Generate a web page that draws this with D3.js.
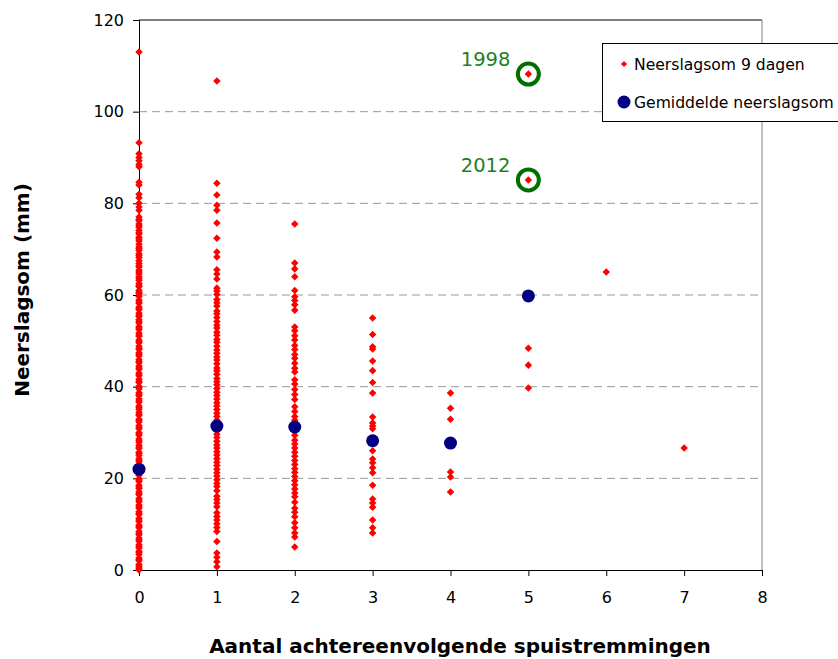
<!DOCTYPE html>
<html>
<head>
<meta charset="utf-8">
<script src="https://cdn.jsdelivr.net/npm/d3@7"></script>
<style>
  body { margin: 0; background: #fff; }
  svg { display: block; font-family: "DejaVu Sans", Verdana, sans-serif; }
</style>
</head>
<body>
<div id="chart"></div>
<script>
// Neerslagsom 9 dagen (mm) per aantal achtereenvolgende spuistremmingen
var neerslag0 = [113, 93.2, 90.8, 90, 89.3, 88.5, 88, 84.6, 84, 82, 81.2, 80, 79.2, 78.5,
  77.0, 76.5, 76.2, 75.5, 75.1, 74.8, 74.1, 73.6, 73.3, 72.6, 72.2, 71.8, 71.1, 70.5, 70.1,
  69.7, 69.0, 68.6, 68.2, 67.5, 66.9, 66.4, 66.1, 65.4, 65.0, 64.6, 64.0, 63.6, 63.2, 62.5,
  62.1, 61.8, 61.0, 60.6, 60.3, 59.7, 58.9, 58.5, 58.2, 57.4, 57.0, 56.8, 56.0, 55.6, 55.3,
  54.6, 54.2, 53.9, 53.1, 52.8, 52.5, 51.7, 51.3, 51.0, 50.2, 49.9, 49.6, 48.8, 48.4, 48.1,
  47.4, 47.0, 46.7, 45.9, 45.5, 45.2, 44.5, 44.1, 43.8, 43.0, 42.7, 42.4, 41.6, 41.2, 40.9,
  40.1, 39.8, 39.5, 38.7, 38.3, 38.0, 37.3, 36.9, 36.6, 35.8, 35.4, 35.1, 34.4, 34.0, 33.7,
  32.9, 32.6, 32.3, 31.5, 31.1, 30.8, 30.0, 29.7, 29.4, 28.6, 28.2, 27.9, 27.2, 26.8, 26.5,
  25.7, 25.4, 25.0, 24.3, 23.9, 23.6, 22.8, 22.5, 22.2, 21.4, 21.0, 20.7, 19.9, 19.6, 19.3,
  18.5, 18.1, 17.8, 17.1, 16.7, 16.4, 15.6, 15.3, 14.9, 14.2, 13.8, 13.5, 12.7, 12.4, 12.1,
  11.3, 10.9, 10.6, 9.8, 9.5, 9.2, 8.4, 8.0, 7.7, 7.0, 6.6, 6.3, 5.5, 5.1, 4.8, 4.1, 3.8,
  3.4, 2.6, 2.3, 2.0, 1.2, 0.9, 0.5, 0.2, 0.0];
var neerslag1 = [106.7, 84.4, 81.8, 79.6, 78.5, 75.7, 72.4, 69.4, 68.3, 65.5, 64.6, 63.5, 61.5,
  60.9, 60.1, 59.0, 58.3, 57.6, 56.5, 55.9, 55.1, 54.2, 53.4, 52.8, 51.9, 51.2, 50.3, 49.7,
  48.8, 48.0, 47.3, 46.5, 45.8, 45.0, 44.1, 43.5, 42.7, 41.8, 41.1, 40.4, 39.6, 38.8, 38.1,
  37.3, 36.5, 35.8, 35.0, 34.2, 33.5, 32.7, 31.9, 31.2, 30.4, 29.6, 28.9, 28.1, 27.3, 26.6,
  25.8, 25.1, 24.3, 23.5, 22.8, 22.0, 21.2, 20.5, 19.7, 18.9, 18.2, 17.3, 16.1, 15.4, 14.6,
  13.8, 12.5, 11.7, 10.9, 10.1, 9.3, 8.4, 6.2, 3.7, 2.8, 1.8, 0.7];
var neerslag2 = [75.5, 67.0, 65.7, 64.0, 61.0, 59.6, 58.8, 57.9, 56.7, 53.0, 52.2, 51.1, 50.2,
  49.0, 48.1, 47.0, 46.2, 45.1, 44.0, 43.2, 41.5, 40.6, 39.4, 38.3, 37.2, 35.6, 34.6, 33.5,
  32.7, 30.2, 29.4, 28.3, 27.5, 26.6, 25.7, 24.8, 23.9, 23.0, 22.1, 21.3, 20.4, 19.5, 18.6,
  17.7, 16.8, 16.0, 14.8, 13.5, 12.6, 11.6, 10.3, 9.2, 8.1, 7.2, 5.0];
var neerslag3 = [55, 51.4, 48.7, 48.2, 45.6, 43.5, 40.9, 38.6, 33.4, 32.1, 31.4, 30.8, 26.0,
  24.2, 23.4, 22.3, 21.2, 18.5, 15.5, 14.6, 13.7, 10.9, 9.2, 8.1];
var neerslag4 = [38.6, 35.3, 32.9, 21.4, 20.3, 17.0];
var neerslag5 = [108.2, 85.1, 48.4, 44.7, 39.7];
var neerslag6 = [65];
var neerslag7 = [26.6];

var gemiddelde = [22.0, 31.4, 31.2, 28.2, 27.7, 59.8];

// jaren die omcirkeld zijn
var jaren = ["1998", "2012"];
var jaarX = [5, 5];
var jaarY = [108.2, 85.1];

var xTicks = [0, 1, 2, 3, 4, 5, 6, 7, 8];
var yTicks = [0, 20, 40, 60, 80, 100, 120];

var groups = [neerslag0, neerslag1, neerslag2, neerslag3, neerslag4, neerslag5, neerslag6, neerslag7];

var width = 838, height = 659;
var margin = {top: 20, right: 76, bottom: 89, left: 139};

var svg = d3.select("#chart").append("svg")
  .attr("width", width)
  .attr("height", height);

var x = d3.scaleLinear().domain([0, 8]).range([margin.left, width - margin.right]);
var y = d3.scaleLinear().domain([0, 120]).range([height - margin.bottom, margin.top]);

// gridlines
svg.append("g")
  .selectAll("line")
  .data(yTicks.filter(d => d > 0 && d < 120))
  .enter().append("line")
    .attr("x1", x(0)).attr("x2", x(8))
    .attr("y1", d => y(d)).attr("y2", d => y(d))
    .attr("stroke", "#999")
    .attr("stroke-width", 1)
    .attr("stroke-dasharray", "8,5");

// plot border top/right
svg.append("line")
  .attr("x1", x(0)).attr("x2", x(8)).attr("y1", y(120)).attr("y2", y(120))
  .attr("stroke", "#000");
svg.append("line")
  .attr("x1", x(8)).attr("x2", x(8)).attr("y1", y(120)).attr("y2", y(0))
  .attr("stroke", "#808080");

// axes
var xAxis = svg.append("g")
  .attr("transform", "translate(0," + y(0) + ")")
  .call(d3.axisBottom(x).tickValues(xTicks).tickSize(6).tickPadding(16).tickFormat(d3.format("d")));
var yAxis = svg.append("g")
  .attr("transform", "translate(" + x(0) + ",0)")
  .call(d3.axisLeft(y).tickValues(yTicks).tickSize(6).tickPadding(9));
[xAxis, yAxis].forEach(a => {
  a.select(".domain").attr("stroke", "#000");
  a.selectAll(".tick line").attr("stroke", "#000");
  a.selectAll("text").style("font-size", "16px").attr("fill", "#000")
    .style("font-family", "DejaVu Sans, Verdana, sans-serif");
});

// datapunten
var punten = [];
groups.forEach((vals, i) => vals.forEach(v => punten.push({n: i, v: v})));

var diamond = d3.symbol().type(d3.symbolDiamond2).size(36);

svg.append("g")
  .selectAll("path")
  .data(punten)
  .enter().append("path")
    .attr("d", diamond)
    .attr("transform", d => "translate(" + x(d.n) + "," + y(d.v) + ")")
    .attr("fill", "#ff0000");

// gemiddelden
svg.append("g")
  .selectAll("circle")
  .data(gemiddelde)
  .enter().append("circle")
    .attr("cx", (d, i) => x(i))
    .attr("cy", d => y(d))
    .attr("r", 6.5)
    .attr("fill", "#000080");

// omcirkelde jaren
jaren.forEach((j, i) => {
  svg.append("circle")
    .attr("cx", x(jaarX[i]))
    .attr("cy", y(jaarY[i]))
    .attr("r", 10.5)
    .attr("fill", "none")
    .attr("stroke", "#006f00")
    .attr("stroke-width", 4);
  svg.append("text")
    .attr("x", x(jaarX[i]) - 18)
    .attr("y", y(jaarY[i]) - 8)
    .attr("text-anchor", "end")
    .attr("fill", "#1f7f1f")
    .style("font-size", "19.5px")
    .text(j);
});

// legenda
var legend = svg.append("g").attr("transform", "translate(602,43)");
legend.append("rect")
  .attr("x", 0.5).attr("y", 0.5)
  .attr("width", 250).attr("height", 78)
  .attr("fill", "#fff").attr("stroke", "#000");
legend.append("path")
  .attr("d", d3.symbol().type(d3.symbolDiamond2).size(24))
  .attr("transform", "translate(22,21)")
  .attr("fill", "#ff0000");
legend.append("text")
  .attr("x", 32).attr("y", 27)
  .style("font-size", "15.6px")
  .text("Neerslagsom 9 dagen");
legend.append("circle")
  .attr("cx", 22).attr("cy", 59).attr("r", 6.5)
  .attr("fill", "#000080");
legend.append("text")
  .attr("x", 32).attr("y", 65)
  .style("font-size", "15.6px")
  .text("Gemiddelde neerslagsom");

// astitels
svg.append("text")
  .attr("x", 460).attr("y", 653)
  .attr("text-anchor", "middle")
  .style("font-size", "20px")
  .style("font-weight", "bold")
  .text("Aantal achtereenvolgende spuistremmingen");

svg.append("text")
  .attr("transform", "translate(29,290) rotate(-90)")
  .attr("text-anchor", "middle")
  .style("font-size", "20px")
  .style("font-weight", "bold")
  .text("Neerslagsom (mm)");
</script>
</body>
</html>
